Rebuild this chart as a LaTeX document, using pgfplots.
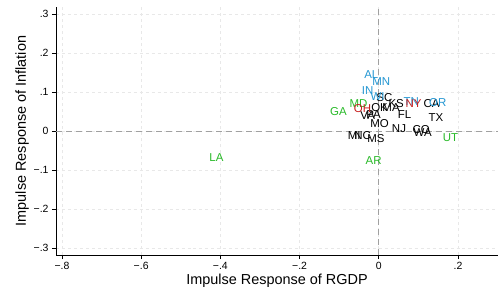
\documentclass[border=0pt]{standalone}
\usepackage{pgfplots}
\pgfplotsset{compat=1.18}
\usepackage{pgfplotstable}
\usepackage{fontspec}
\setmainfont{Liberation Sans}
\definecolor{sgreen}{RGB}{40,185,40}
\definecolor{sblue}{RGB}{35,150,210}
\definecolor{sred}{RGB}{200,30,30}
\definecolor{zgray}{RGB}{160,160,160}
\definecolor{ggray}{RGB}{232,232,232}

\pgfplotstableread{
x y lab
-0.102 0.051 GA
-0.051 0.071 MD
-0.410 -0.069 LA
-0.013 -0.076 AR
0.181 -0.016 UT
}\greendata
\pgfplotstableread{
x y lab
-0.041 0.057 OH
0.088 0.071 NY
}\reddata
\pgfplotstableread{
x y lab
-0.019 0.145 AL
0.006 0.128 MN
-0.028 0.104 IN
-0.003 0.088 WI
0.082 0.076 TN
0.149 0.074 OR
}\bluedata
\pgfplotstableread{
x y lab
0.014 0.087 SC
0.002 0.061 OK
0.031 0.061 MA
0.044 0.070 KS
-0.028 0.040 VA
-0.013 0.042 PA
0.002 0.020 MO
0.065 0.042 FL
0.051 0.007 NJ
0.107 0.003 CO
0.111 -0.003 WA
0.144 0.035 TX
0.133 0.071 CA
-0.062 -0.012 MI
-0.041 -0.012 NC
-0.007 -0.020 MS
}\blackdata

\begin{document}
\begin{tikzpicture}
\begin{axis}[
  scale only axis,
  width=442bp, height=248bp,
  xmin=-0.815, xmax=0.301,
  ymin=-0.318, ymax=0.318,
  axis lines*=left,
  axis line style={black, line width=0.7pt},
  tick align=outside,
  major tick length=4bp,
  tick style={black, line width=0.6pt},
  xtick={-0.8,-0.6,-0.4,-0.2,0,0.2},
  xticklabels={−.8,−.6,−.4,−.2,0,.2},
  ytick={-0.3,-0.2,-0.1,0,0.1,0.2,0.3},
  yticklabels={−.3,−.2,−.1,0,.1,.2,.3},
  ticklabel style={font=\fontsize{10.5}{12}\selectfont},
  grid=major,
  major grid style={ggray, dashed, line width=0.6pt},
  xlabel={Impulse Response of RGDP},
  ylabel={Impulse Response of Inflation},
  label style={font=\fontsize{14.5}{17}\selectfont},
  xlabel style={yshift=3bp},
  ylabel style={yshift=-2bp},
  nodes near coords={\pgfplotspointmeta},
  point meta=explicit symbolic,
  every node near coord/.append style={anchor=center, inner sep=0pt, font=\fontsize{11.5}{13}\selectfont},
  clip=false,
]
\draw[zgray, dashed, line width=0.8pt, dash pattern=on 6bp off 4bp] (axis cs:0,-0.318) -- (axis cs:0,0.318);
\draw[zgray, dashed, line width=0.8pt, dash pattern=on 6bp off 4bp] (axis cs:-0.815,0) -- (axis cs:0.301,0);
\addplot[only marks, mark=none, every node near coord/.append style={text=black}] table[x=x,y=y,meta=lab] {\blackdata};
\addplot[only marks, mark=none, every node near coord/.append style={text=sblue}] table[x=x,y=y,meta=lab] {\bluedata};
\addplot[only marks, mark=none, every node near coord/.append style={text=sgreen}] table[x=x,y=y,meta=lab] {\greendata};
\addplot[only marks, mark=none, every node near coord/.append style={text=sred}] table[x=x,y=y,meta=lab] {\reddata};
\coordinate (sw) at (rel axis cs:0,0);
\coordinate (ne) at (rel axis cs:1,1);
\end{axis}
\pgfresetboundingbox
\path ([shift={(-56bp,-37bp)}]sw) rectangle ([shift={(0bp,7bp)}]ne);
\end{tikzpicture}
\end{document}
